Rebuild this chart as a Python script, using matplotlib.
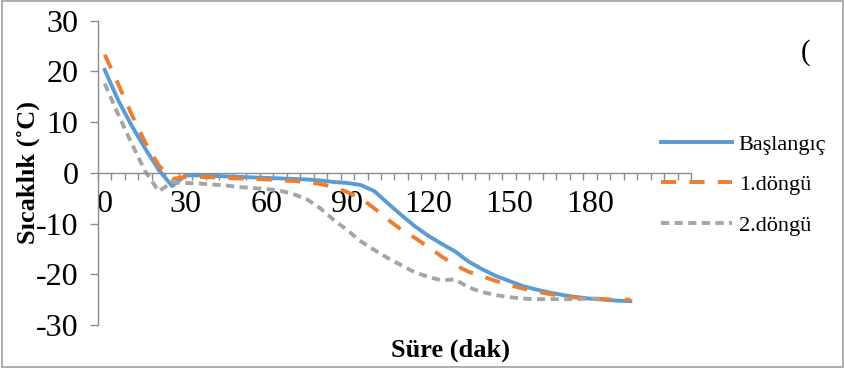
import matplotlib
matplotlib.use('Agg')
import matplotlib.pyplot as plt
import numpy as np
from matplotlib.patches import Rectangle

plt.rcParams['font.family'] = ['Liberation Serif', 'DejaVu Serif']
plt.rcParams['axes.unicode_minus'] = False

# time (min) and temperature (C)
time_a = [0, 5, 10, 15, 20, 25, 30, 35, 40, 45, 50, 55, 60, 65, 70, 75, 80, 85, 90, 95,
          100, 105, 110, 115, 120, 125, 130, 135, 140, 145, 150, 155, 160, 165, 170, 175,
          180, 185, 190, 195]
baslangic = [20.3, 14.3, 9.3, 4.8, 0.6, -2.6, -0.5, -0.5, -0.6, -0.7, -0.8, -0.9, -1.0, -1.1,
             -1.2, -1.3, -1.5, -1.8, -2.0, -2.4, -3.6, -6.0, -8.3, -10.5, -12.4, -14.0, -15.5,
             -17.5, -19.0, -20.3, -21.3, -22.3, -23.0, -23.6, -24.1, -24.5, -24.8, -25.0,
             -25.2, -25.3]
dongu1 = [23.3, 17.5, 11.5, 6.0, 1.5, -1.2, -0.8, -0.8, -0.9, -1.0, -1.1, -1.2, -1.3, -1.5,
          -1.6, -1.8, -2.2, -2.8, -3.8, -5.0, -7.0, -9.2, -11.2, -12.8, -14.6, -16.5, -18.2,
          -19.5, -20.4, -21.3, -22.1, -22.8, -23.4, -23.9, -24.3, -24.6, -24.8, -24.9,
          -25.0, -25.0]
time_b = time_a[:38]
dongu2 = [17.6, 11.5, 5.8, 0.3, -3.6, -1.9, -2.0, -2.1, -2.3, -2.5, -2.8, -3.0, -3.2, -3.5,
          -4.2, -5.2, -7.0, -9.3, -11.3, -13.5, -15.2, -16.8, -18.2, -19.6, -20.5, -21.2,
          -21.0, -22.6, -23.5, -24.1, -24.5, -24.8, -24.9, -24.9, -24.9, -24.9, -24.8, -24.8]

x_labels = [0, 30, 60, 90, 120, 150, 180]
y_ticks = [-30, -20, -10, 0, 10, 20, 30]

fig = plt.figure(figsize=(8.45, 3.68), dpi=100)
ax = fig.add_axes([98/845, 1-325/368, (691-98)/845, (325-20.7)/368])

ax.plot(time_a, baslangic, color='#5B9BD5', lw=2.8, label='Başlangıç')
ax.plot(time_a, dongu1, color='#ED7D31', lw=2.8, dashes=(3.9, 3.4), label='1.döngü')
ax.plot(time_b, dongu2, color='#A5A5A5', lw=2.8, dashes=(2.1, 1.4), label='2.döngü')

ax.set_xlim(-2.5, 217)
ax.set_ylim(-30, 30)

ax.spines['top'].set_visible(False)
ax.spines['right'].set_visible(False)
ax.spines['bottom'].set_position(('data', 0))
for s in ('left', 'bottom'):
    ax.spines[s].set_color('#8C8C8C')
    ax.spines[s].set_linewidth(1.0)

ax.set_yticks(y_ticks)
ax.tick_params(axis='y', direction='out', length=6, width=1, color='#8C8C8C', pad=8, labelsize=23)
ax.set_xticks(x_labels)
ax.set_xticks(np.arange(-2.5, 218, 5), minor=True)
ax.tick_params(axis='x', which='major', length=0, pad=12, labelsize=23)
ax.tick_params(axis='x', which='minor', direction='out', length=5, width=1, color='#8C8C8C')

ax.set_ylabel('Sıcaklık (˚C)', fontsize=19, fontweight='bold')
ax.yaxis.set_label_coords(-0.098, 0.5)
fig.text(451/845, 1-350/368, 'Süre (dak)', fontsize=19, fontweight='bold', ha='center', va='center')
fig.text(806/845, 1-53/368, '(', fontsize=21, ha='center', va='center')

fig.legend(loc='upper left', bbox_to_anchor=(661/845, 1-134/368), frameon=False, fontsize=16,
           handlelength=3.2, handletextpad=0.3, labelspacing=0.9, borderpad=0, borderaxespad=0)

fig.add_artist(Rectangle((0.002, 0.004), 0.996, 0.992, transform=fig.transFigure,
                         fill=False, edgecolor='#A0A0A0', lw=1.2))

fig.savefig('out.png', dpi=100)
